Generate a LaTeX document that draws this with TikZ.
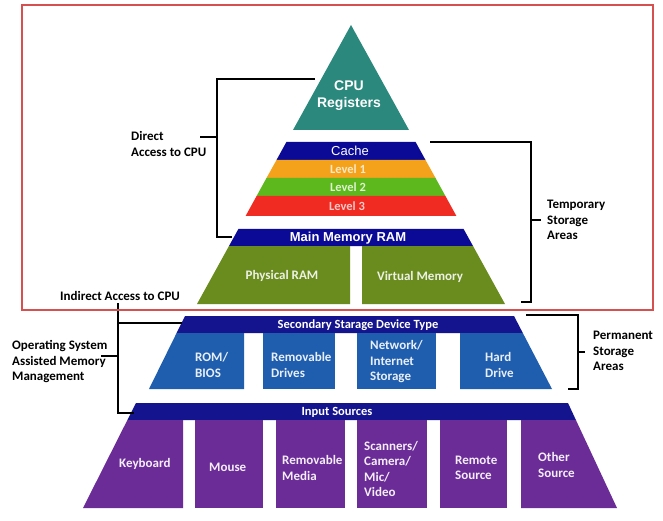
\documentclass[tikz,border=0pt]{standalone}
\usepackage{fontspec}
\setmainfont{Carlito}
\newfontfamily\arialfont{Liberation Sans}
\definecolor{cteal}{HTML}{2A887D}
\definecolor{cnavy}{HTML}{0A0A96}
\definecolor{corange}{HTML}{F4A21C}
\definecolor{cgreen}{HTML}{5CB81C}
\definecolor{cred}{HTML}{EF2B22}
\definecolor{colive}{HTML}{6A8C1E}
\definecolor{cband}{HTML}{14148F}
\definecolor{cblue}{HTML}{1F5EAE}
\definecolor{cpurple}{HTML}{6B2C98}
\definecolor{cframe}{HTML}{D65050}
\tikzset{
  brk/.style={line width=1.8pt, black},
  lbl/.style={font=\fontsize{13}{15.5}\selectfont\bfseries, text=black, align=left, anchor=west, inner sep=0pt},
  boxtxt/.style={font=\fontsize{13}{15.5}\selectfont\bfseries, align=left, anchor=west, inner sep=0pt},
  bandtxt/.style={font=\fontsize{12.5}{15}\selectfont\bfseries, text=white, inner sep=0pt},
  lvltxt/.style={font=\fontsize{12.5}{15}\selectfont\bfseries, inner sep=0pt},
}
\begin{document}
\begin{tikzpicture}[x=1pt,y=-1pt]
\useasboundingbox (0,0) rectangle (663,521);
\fill[white] (0,0) rectangle (663,521);

% ---------- upper pyramid ----------
\fill[cteal] (351,25) -- (409,130) -- (293,130) -- cycle;
\fill[cnavy] (286.4,142) -- (415.6,142) -- (425.5,160) -- (276.5,160) -- cycle;
\fill[corange] (276.5,160) -- (425.5,160) -- (435.5,178) -- (266.5,178) -- cycle;
\fill[cgreen] (266.5,178) -- (435.5,178) -- (445.4,196) -- (256.6,196) -- cycle;
\fill[cred] (256.6,196) -- (445.4,196) -- (456.4,216) -- (245.6,216) -- cycle;
\fill[cnavy] (238.4,229) -- (463.6,229) -- (473,246) -- (229,246) -- cycle;
\fill[colive] (229,246) -- (350,246) -- (350,304) -- (197,304) -- cycle;
\fill[colive] (362,246) -- (473,246) -- (505,304) -- (362,304) -- cycle;

\node[font=\arialfont\bfseries\fontsize{14}{17}\selectfont, text=white, align=center, inner sep=0pt] (cpu) at (349,96) {CPU\\Registers};
\node[font=\arialfont\fontsize{13}{15}\selectfont, text=white, inner sep=0pt] (cache) at (350,151) {Cache};
\node[lvltxt, text=corange!25!white] (l1) at (348,169) {Level 1};
\node[lvltxt, text=cgreen!20!white] (l2) at (348,187) {Level 2};
\node[lvltxt, text=cred!25!white] (l3) at (347,206) {Level 3};
\node[font=\arialfont\bfseries\fontsize{13}{15}\selectfont, text=white, inner sep=0pt] (ram) at (348,238) {Main Memory RAM};
\node[boxtxt, text=colive!12!white, anchor=center] (phys) at (282,276) {Physical RAM};
\node[boxtxt, text=colive!12!white, anchor=center] (virt) at (420,277) {Virtual Memory};

% ---------- secondary storage ----------
\fill[cband] (185,316) -- (514,316) -- (522.8,333) -- (176.6,333) -- cycle;
\fill[cblue] (176.6,333) -- (244,333) -- (244,389) -- (149,389) -- cycle;
\fill[cblue] (263,333) rectangle (335,389);
\fill[cblue] (357,333) rectangle (436,389);
\fill[cblue] (460,333) -- (522.8,333) -- (552,389) -- (460,389) -- cycle;
\node[bandtxt] (sec) at (358,325) {Secondary Starage Device Type};
\node[boxtxt, text=cblue!10!white] (rom) at (195,365) {ROM/\\BIOS};
\node[boxtxt, text=cblue!10!white] (rdrv) at (271,365) {Removable\\Drives};
\node[boxtxt, text=cblue!10!white] (net) at (370,362) {Network/\\Internet\\Storage};
\node[boxtxt, text=cblue!10!white] (hd) at (485,365) {Hard\\Drive};

% ---------- input sources ----------
\fill[cband] (136,403) -- (568,403) -- (575.9,420) -- (127.4,420) -- cycle;
\fill[cpurple] (127.4,420) -- (183,420) -- (183,508) -- (83,508) -- cycle;
\fill[cpurple] (195,420) rectangle (263,508);
\fill[cpurple] (276,420) rectangle (345,508);
\fill[cpurple] (357,420) rectangle (427,508);
\fill[cpurple] (440,420) rectangle (507,508);
\fill[cpurple] (521,420) -- (575.9,420) -- (617,508) -- (521,508) -- cycle;
\node[bandtxt] (inp) at (337,412) {Input Sources};
\node[boxtxt, text=cpurple!8!white] (kb) at (119,464) {Keyboard};
\node[boxtxt, text=cpurple!8!white] (mouse) at (209,467) {Mouse};
\node[boxtxt, text=cpurple!8!white] (rmed) at (282,468) {Removable\\Media};
\node[boxtxt, text=cpurple!8!white] (scan) at (364,469) {Scanners/\\Camera/\\Mic/\\Video};
\node[boxtxt, text=cpurple!8!white] (rem) at (455,468) {Remote\\Source};
\node[boxtxt, text=cpurple!8!white] (oth) at (538,465) {Other\\Source};

% ---------- brackets ----------
\coordinate (dA) at (315,79);
\coordinate (dB) at (217,79);
\coordinate (dC) at (217,237);
\coordinate (dD) at (232,237);
\coordinate (dT1) at (200,137);
\coordinate (dT2) at (217,137);
\draw[brk] (dA) -- (dB) -- (dC) -- (dD);
\draw[brk] (dT1) -- (dT2);

\coordinate (tA) at (430,142);
\coordinate (tB) at (531,142);
\coordinate (tC) at (531,302);
\coordinate (tD) at (521,302);
\coordinate (tT1) at (531,220);
\coordinate (tT2) at (541,220);
\draw[brk] (tA) -- (tB) -- (tC) -- (tD);
\draw[brk] (tT1) -- (tT2);

\coordinate (oS) at (118,303);
\coordinate (oB) at (118,323);
\coordinate (oA) at (182,323);
\coordinate (oC) at (118,413);
\coordinate (oD) at (134,413);
\coordinate (oT1) at (101,356);
\coordinate (oT2) at (118,356);
\draw[brk] (oS) -- (oC) -- (oD);
\draw[brk] (oB) -- (oA);
\draw[brk] (oT1) -- (oT2);

\coordinate (pA) at (526,315);
\coordinate (pB) at (578,315);
\coordinate (pC) at (578,389);
\coordinate (pD) at (568,389);
\coordinate (pT1) at (578,352);
\coordinate (pT2) at (585,352);
\draw[brk] (pA) -- (pB) -- (pC) -- (pD);
\draw[brk] (pT1) -- (pT2);

% ---------- labels ----------
\node[lbl] (direct) at (131,144) {Direct\\Access to CPU};
\node[lbl] (temp) at (547,220) {Temporary\\Storage\\Areas};
\node[lbl] (indirect) at (60,296) {Indirect Access to CPU};
\node[lbl] (os) at (12,362) {Operating System\\Assisted Memory\\Management};
\node[lbl] (perm) at (593,351) {Permanent\\Storage\\Areas};

% ---------- frame ----------
\draw[cframe, line width=2.6pt] (22,5) rectangle (653,310);
\end{tikzpicture}
\end{document}
